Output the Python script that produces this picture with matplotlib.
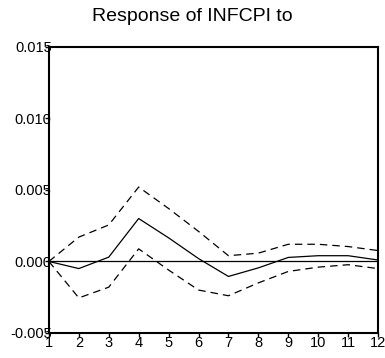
import numpy as np
from matplotlib import pyplot as plt

periods = np.arange(1, 13)
response = [0.0, -0.0005, 0.0003, 0.0030, 0.00165, 0.0002, -0.00105, -0.00045, 0.00028, 0.0004, 0.0004, 0.0001]
upper = [0.0, 0.0017, 0.00255, 0.0052, 0.0037, 0.0021, 0.0004, 0.00058, 0.0012, 0.0012, 0.00104, 0.00076]
lower = [0.0, -0.00255, -0.0018, 0.00088, -0.0006, -0.002, -0.0024, -0.0015, -0.0007, -0.0004, -0.00023, -0.0005]
y_ticks = [-0.005, 0.0, 0.005, 0.010, 0.015]


def main():
    plt.rcParams["font.family"] = ["Liberation Sans", "DejaVu Sans"]
    fig = plt.figure(figsize=(3.85, 3.58), dpi=100)
    ax = fig.add_axes([0.127, 0.070, 0.855, 0.799])

    ax.axhline(0, color="black", lw=0.9)
    ax.plot(periods, response, color="black", lw=0.9)
    ax.plot(periods, upper, color="black", lw=0.9, dashes=(6, 4))
    ax.plot(periods, lower, color="black", lw=0.9, dashes=(6, 4))

    ax.set_xlim(1, 12)
    ax.set_ylim(-0.005, 0.015)
    ax.set_xticks(periods)
    ax.set_yticks(y_ticks)
    ax.set_yticklabels([f"{v:.3f}" for v in y_ticks])
    ax.tick_params(axis="x", direction="out", length=3, width=1, pad=-1, labelsize=10.5)
    ax.tick_params(axis="y", direction="out", length=3, width=1, pad=-5, labelsize=10.5)
    for s in ax.spines.values():
        s.set_linewidth(1.5)

    fig.text(0.5, 0.955, "Response of INFCPI to", ha="center", va="center", fontsize=14)
    fig.savefig("out.png", dpi=100)


if __name__ == "__main__":
    main()
